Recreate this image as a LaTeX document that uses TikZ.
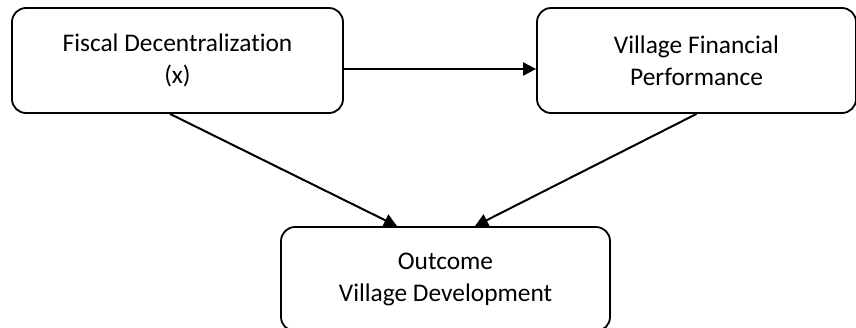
\documentclass[tikz,border=0pt]{standalone}
\usepackage{fontspec}
\setmainfont{Carlito}[Ligatures=NoCommon]
\usetikzlibrary{arrows.meta}

\begin{document}
\begin{tikzpicture}[x=0.5pt, y=-0.5pt, >={Triangle[length=6.5pt, width=6.5pt]},
    font=\fontsize{12.7}{16}\selectfont,
    box/.style={draw, line width=0.9pt, rounded corners=7pt, align=center, inner sep=0pt}]
  \useasboundingbox (0,0) rectangle (856,327);
  % Variables
  \node[box, minimum width=165.5pt, minimum height=52.5pt] (fiscal) at (177.5,60.5) {Fiscal Decentralization\\(x)};
  \node[box, minimum width=159.5pt, minimum height=52.5pt] (perf) at (696.5,60.5) {Village Financial\\Performance};
  \node[box, minimum width=164.5pt, minimum height=52pt] (outcome) at (445.5,279) {Outcome\\Village Development};

  % Paths
  \draw[->, line width=1pt] ([yshift=-4.25pt]fiscal.east) -- ([yshift=-4.25pt]perf.west);
  \draw[->, line width=1pt] ([xshift=-3.75pt]fiscal.south) -- ([xshift=-24.25pt]outcome.north);
  \draw[->, line width=1pt] (perf.south) -- ([xshift=14.75pt]outcome.north);
\end{tikzpicture}
\end{document}
